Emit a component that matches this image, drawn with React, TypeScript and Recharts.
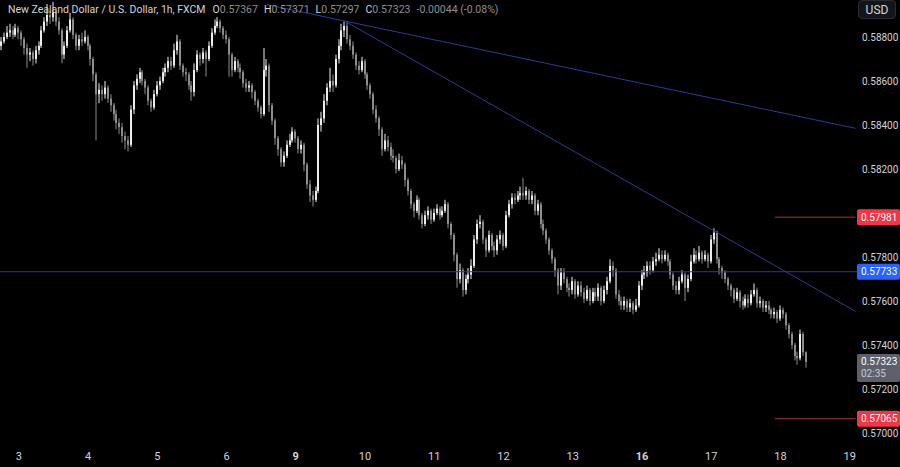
import React from "react";
import { Bar, ComposedChart, ReferenceLine, XAxis, YAxis } from "recharts";

// NZD/USD 1h candles (one entry per hour)
const opens = [
  0.5876, 0.5878, 0.5880, 0.5882, 0.5883, 0.5881, 0.5884, 0.5882, 0.5879, 0.5875,
  0.5872, 0.5873, 0.5870, 0.5874, 0.5876, 0.5883, 0.5887, 0.5890, 0.5889, 0.5891,
  0.5887, 0.5883, 0.5872, 0.5876, 0.5883, 0.5888, 0.5881, 0.5876, 0.5879, 0.5878,
  0.5880, 0.5876, 0.5870, 0.5863, 0.5854, 0.5856, 0.5854, 0.5857, 0.5852, 0.5849,
  0.5845, 0.5841, 0.5839, 0.5835, 0.5833, 0.5831, 0.5847, 0.5858, 0.5861, 0.5864,
  0.5860, 0.5857, 0.5851, 0.5848, 0.5854, 0.5858, 0.5860, 0.5864, 0.5866, 0.5869,
  0.5867, 0.5874, 0.5878, 0.5867, 0.5864, 0.5863, 0.5858, 0.5855, 0.5865, 0.5872,
  0.5870, 0.5873, 0.5870, 0.5876, 0.5882, 0.5885, 0.5887, 0.5884, 0.5881, 0.5879,
  0.5872, 0.5865, 0.5869, 0.5866, 0.5864, 0.5859, 0.5857, 0.5858, 0.5855, 0.5851,
  0.5848, 0.5845, 0.5865, 0.5867, 0.5849, 0.5842, 0.5834, 0.5829, 0.5823, 0.5826,
  0.5831, 0.5833, 0.5837, 0.5834, 0.5829, 0.5831, 0.5822, 0.5813, 0.5808, 0.5806,
  0.5810, 0.5840, 0.5843, 0.5851, 0.5857, 0.5860, 0.5858, 0.5870, 0.5876, 0.5883,
  0.5885, 0.5879, 0.5876, 0.5872, 0.5867, 0.5865, 0.5869, 0.5863, 0.5858, 0.5854,
  0.5847, 0.5843, 0.5838, 0.5829, 0.5833, 0.5830, 0.5826, 0.5825, 0.5820, 0.5824,
  0.5822, 0.5815, 0.5810, 0.5804, 0.5801, 0.5806, 0.5799, 0.5795, 0.5799, 0.5801,
  0.5797, 0.5800, 0.5802, 0.5799, 0.5801, 0.5804, 0.5795, 0.5790, 0.5781, 0.5770,
  0.5774, 0.5765, 0.5770, 0.5772, 0.5776, 0.5788, 0.5795, 0.5796, 0.5788, 0.5783,
  0.5790, 0.5785, 0.5783, 0.5788, 0.5790, 0.5785, 0.5799, 0.5804, 0.5807, 0.5806,
  0.5808, 0.5809, 0.5808, 0.5810, 0.5806, 0.5808, 0.5801, 0.5804, 0.5795, 0.5792,
  0.5788, 0.5783, 0.5779, 0.5774, 0.5767, 0.5773, 0.5770, 0.5766, 0.5765, 0.5769,
  0.5763, 0.5767, 0.5764, 0.5761, 0.5765, 0.5760, 0.5764, 0.5762, 0.5766, 0.5760,
  0.5765, 0.5769, 0.5776, 0.5774, 0.5763, 0.5760, 0.5758, 0.5760, 0.5757, 0.5759,
  0.5756, 0.5758, 0.5767, 0.5772, 0.5773, 0.5776, 0.5774, 0.5778, 0.5779, 0.5781,
  0.5779, 0.5781, 0.5778, 0.5772, 0.5767, 0.5765, 0.5769, 0.5772, 0.5766, 0.5770,
  0.5778, 0.5781, 0.5779, 0.5782, 0.5779, 0.5781, 0.5778, 0.5788, 0.5791, 0.5779,
  0.5775, 0.5773, 0.5770, 0.5767, 0.5765, 0.5761, 0.5764, 0.5760, 0.5758, 0.5761,
  0.5759, 0.5763, 0.5765, 0.5759, 0.5760, 0.5757, 0.5758, 0.5756, 0.5754, 0.5755,
  0.5752, 0.5756, 0.5754, 0.5749, 0.5745, 0.5740, 0.5735, 0.5734, 0.5745, 0.57367,
];

const highs = [
  0.5880, 0.5882, 0.5885, 0.5886, 0.5885, 0.5886, 0.5885, 0.5883, 0.5880, 0.5877,
  0.5875, 0.5874, 0.5876, 0.5878, 0.5885, 0.5889, 0.5895, 0.5892, 0.5896, 0.5892,
  0.5889, 0.5884, 0.5878, 0.5885, 0.5891, 0.5889, 0.5882, 0.5881, 0.5882, 0.5883,
  0.5881, 0.5877, 0.5871, 0.5864, 0.5859, 0.5858, 0.5860, 0.5858, 0.5854, 0.5850,
  0.5847, 0.5843, 0.5841, 0.5837, 0.5835, 0.5849, 0.5860, 0.5863, 0.5866, 0.5865,
  0.5861, 0.5858, 0.5852, 0.5856, 0.5860, 0.5862, 0.5866, 0.5868, 0.5871, 0.5871,
  0.5877, 0.5881, 0.5879, 0.5868, 0.5866, 0.5864, 0.5860, 0.5868, 0.5874, 0.5873,
  0.5875, 0.5874, 0.5878, 0.5884, 0.5888, 0.5889, 0.5888, 0.5885, 0.5883, 0.5880,
  0.5873, 0.5871, 0.5870, 0.5868, 0.5865, 0.5861, 0.5860, 0.5859, 0.5856, 0.5852,
  0.5849, 0.5875, 0.5870, 0.5868, 0.5850, 0.5843, 0.5835, 0.5830, 0.5828, 0.5833,
  0.5836, 0.5839, 0.5838, 0.5835, 0.5833, 0.5832, 0.5823, 0.5815, 0.5810, 0.5812,
  0.5843, 0.5846, 0.5854, 0.5859, 0.5866, 0.5863, 0.5872, 0.5879, 0.5886, 0.5887,
  0.5887, 0.5881, 0.5878, 0.5873, 0.5869, 0.5871, 0.5870, 0.5864, 0.5859, 0.5855,
  0.5849, 0.5844, 0.5839, 0.5836, 0.5835, 0.5832, 0.5829, 0.5826, 0.5827, 0.5826,
  0.5823, 0.5816, 0.5811, 0.5805, 0.5808, 0.5807, 0.5800, 0.5801, 0.5803, 0.5802,
  0.5802, 0.5804, 0.5803, 0.5803, 0.5806, 0.5805, 0.5796, 0.5791, 0.5782, 0.5777,
  0.5775, 0.5772, 0.5775, 0.5779, 0.5790, 0.5797, 0.5799, 0.5797, 0.5789, 0.5792,
  0.5791, 0.5787, 0.5790, 0.5792, 0.5791, 0.5801, 0.5806, 0.5809, 0.5809, 0.5810,
  0.5812, 0.5816, 0.5812, 0.5811, 0.5810, 0.5809, 0.5806, 0.5805, 0.5797, 0.5793,
  0.5789, 0.5784, 0.5780, 0.5775, 0.5775, 0.5775, 0.5771, 0.5768, 0.5771, 0.5770,
  0.5769, 0.5769, 0.5766, 0.5767, 0.5766, 0.5766, 0.5766, 0.5768, 0.5767, 0.5767,
  0.5771, 0.5779, 0.5778, 0.5775, 0.5765, 0.5762, 0.5762, 0.5761, 0.5761, 0.5760,
  0.5761, 0.5769, 0.5774, 0.5776, 0.5778, 0.5778, 0.5780, 0.5782, 0.5784, 0.5783,
  0.5783, 0.5782, 0.5779, 0.5773, 0.5769, 0.5771, 0.5774, 0.5773, 0.5772, 0.5781,
  0.5784, 0.5783, 0.5785, 0.5783, 0.5783, 0.5782, 0.5790, 0.5793, 0.5792, 0.5780,
  0.5776, 0.5774, 0.5771, 0.5768, 0.5766, 0.5766, 0.5765, 0.5762, 0.5763, 0.5763,
  0.5765, 0.5768, 0.5766, 0.5762, 0.5761, 0.5760, 0.5760, 0.5757, 0.5757, 0.5756,
  0.5758, 0.5757, 0.5755, 0.5750, 0.5746, 0.5741, 0.5737, 0.5747, 0.5746, 0.57371,
];

const lows = [
  0.5874, 0.5877, 0.5879, 0.5880, 0.5879, 0.5880, 0.5879, 0.5876, 0.5872, 0.5866,
  0.5869, 0.5867, 0.5868, 0.5872, 0.5875, 0.5882, 0.5885, 0.5886, 0.5887, 0.5885,
  0.5881, 0.5868, 0.5870, 0.5875, 0.5882, 0.5879, 0.5874, 0.5874, 0.5876, 0.5877,
  0.5874, 0.5867, 0.5860, 0.5833, 0.5850, 0.5851, 0.5852, 0.5850, 0.5846, 0.5842,
  0.5838, 0.5836, 0.5832, 0.5829, 0.5828, 0.5830, 0.5845, 0.5856, 0.5859, 0.5858,
  0.5854, 0.5849, 0.5846, 0.5847, 0.5853, 0.5856, 0.5859, 0.5862, 0.5864, 0.5865,
  0.5866, 0.5872, 0.5865, 0.5862, 0.5860, 0.5856, 0.5851, 0.5853, 0.5864, 0.5867,
  0.5868, 0.5862, 0.5869, 0.5875, 0.5881, 0.5884, 0.5882, 0.5879, 0.5877, 0.5862,
  0.5862, 0.5864, 0.5864, 0.5861, 0.5857, 0.5855, 0.5855, 0.5852, 0.5849, 0.5846,
  0.5843, 0.5844, 0.5862, 0.5846, 0.5840, 0.5831, 0.5826, 0.5821, 0.5821, 0.5825,
  0.5830, 0.5832, 0.5832, 0.5827, 0.5827, 0.5819, 0.5811, 0.5805, 0.5803, 0.5805,
  0.5809, 0.5837, 0.5841, 0.5849, 0.5855, 0.5855, 0.5857, 0.5868, 0.5874, 0.5880,
  0.5877, 0.5874, 0.5870, 0.5865, 0.5863, 0.5864, 0.5861, 0.5856, 0.5852, 0.5845,
  0.5841, 0.5835, 0.5826, 0.5828, 0.5828, 0.5824, 0.5823, 0.5818, 0.5819, 0.5820,
  0.5812, 0.5808, 0.5802, 0.5798, 0.5800, 0.5797, 0.5793, 0.5794, 0.5797, 0.5795,
  0.5796, 0.5799, 0.5797, 0.5798, 0.5800, 0.5793, 0.5788, 0.5778, 0.5766, 0.5768,
  0.5762, 0.5763, 0.5768, 0.5770, 0.5775, 0.5786, 0.5793, 0.5786, 0.5780, 0.5782,
  0.5783, 0.5780, 0.5781, 0.5786, 0.5783, 0.5784, 0.5798, 0.5802, 0.5804, 0.5805,
  0.5806, 0.5806, 0.5806, 0.5804, 0.5804, 0.5799, 0.5799, 0.5793, 0.5790, 0.5786,
  0.5781, 0.5777, 0.5771, 0.5763, 0.5765, 0.5768, 0.5764, 0.5762, 0.5763, 0.5761,
  0.5762, 0.5762, 0.5759, 0.5760, 0.5758, 0.5759, 0.5760, 0.5760, 0.5758, 0.5759,
  0.5763, 0.5768, 0.5771, 0.5761, 0.5758, 0.5756, 0.5756, 0.5755, 0.5755, 0.5754,
  0.5755, 0.5757, 0.5765, 0.5770, 0.5771, 0.5772, 0.5773, 0.5776, 0.5778, 0.5777,
  0.5778, 0.5776, 0.5770, 0.5765, 0.5763, 0.5763, 0.5768, 0.5760, 0.5764, 0.5769,
  0.5777, 0.5777, 0.5778, 0.5777, 0.5778, 0.5775, 0.5777, 0.5786, 0.5777, 0.5772,
  0.5770, 0.5768, 0.5765, 0.5762, 0.5759, 0.5760, 0.5757, 0.5756, 0.5757, 0.5757,
  0.5758, 0.5762, 0.5757, 0.5757, 0.5755, 0.5755, 0.5754, 0.5752, 0.5752, 0.5750,
  0.5751, 0.5752, 0.5747, 0.5743, 0.5738, 0.5733, 0.5731, 0.5733, 0.5735, 0.57297,
];

const closes = [
  0.5878, 0.5880, 0.5882, 0.5883, 0.5881, 0.5884, 0.5882, 0.5879, 0.5875, 0.5872,
  0.5873, 0.5870, 0.5874, 0.5876, 0.5883, 0.5887, 0.5890, 0.5889, 0.5891, 0.5887,
  0.5883, 0.5872, 0.5876, 0.5883, 0.5888, 0.5881, 0.5876, 0.5879, 0.5878, 0.5880,
  0.5876, 0.5870, 0.5863, 0.5854, 0.5856, 0.5854, 0.5857, 0.5852, 0.5849, 0.5845,
  0.5841, 0.5839, 0.5835, 0.5833, 0.5831, 0.5847, 0.5858, 0.5861, 0.5864, 0.5860,
  0.5857, 0.5851, 0.5848, 0.5854, 0.5858, 0.5860, 0.5864, 0.5866, 0.5869, 0.5867,
  0.5874, 0.5878, 0.5867, 0.5864, 0.5863, 0.5858, 0.5855, 0.5865, 0.5872, 0.5870,
  0.5873, 0.5870, 0.5876, 0.5882, 0.5885, 0.5887, 0.5884, 0.5881, 0.5879, 0.5872,
  0.5865, 0.5869, 0.5866, 0.5864, 0.5859, 0.5857, 0.5858, 0.5855, 0.5851, 0.5848,
  0.5845, 0.5865, 0.5867, 0.5849, 0.5842, 0.5834, 0.5829, 0.5823, 0.5826, 0.5831,
  0.5833, 0.5837, 0.5834, 0.5829, 0.5831, 0.5822, 0.5813, 0.5808, 0.5806, 0.5810,
  0.5840, 0.5843, 0.5851, 0.5857, 0.5860, 0.5858, 0.5870, 0.5876, 0.5883, 0.5885,
  0.5879, 0.5876, 0.5872, 0.5867, 0.5865, 0.5869, 0.5863, 0.5858, 0.5854, 0.5847,
  0.5843, 0.5838, 0.5829, 0.5833, 0.5830, 0.5826, 0.5825, 0.5820, 0.5824, 0.5822,
  0.5815, 0.5810, 0.5804, 0.5801, 0.5806, 0.5799, 0.5795, 0.5799, 0.5801, 0.5797,
  0.5800, 0.5802, 0.5799, 0.5801, 0.5804, 0.5795, 0.5790, 0.5781, 0.5770, 0.5774,
  0.5765, 0.5770, 0.5772, 0.5776, 0.5788, 0.5795, 0.5796, 0.5788, 0.5783, 0.5790,
  0.5785, 0.5783, 0.5788, 0.5790, 0.5785, 0.5799, 0.5804, 0.5807, 0.5806, 0.5808,
  0.5809, 0.5808, 0.5810, 0.5806, 0.5808, 0.5801, 0.5804, 0.5795, 0.5792, 0.5788,
  0.5783, 0.5779, 0.5774, 0.5767, 0.5773, 0.5770, 0.5766, 0.5765, 0.5769, 0.5763,
  0.5767, 0.5764, 0.5761, 0.5765, 0.5760, 0.5764, 0.5762, 0.5766, 0.5760, 0.5765,
  0.5769, 0.5776, 0.5774, 0.5763, 0.5760, 0.5758, 0.5760, 0.5757, 0.5759, 0.5756,
  0.5758, 0.5767, 0.5772, 0.5773, 0.5776, 0.5774, 0.5778, 0.5779, 0.5781, 0.5779,
  0.5781, 0.5778, 0.5772, 0.5767, 0.5765, 0.5769, 0.5772, 0.5766, 0.5770, 0.5778,
  0.5781, 0.5779, 0.5782, 0.5779, 0.5781, 0.5778, 0.5788, 0.5791, 0.5779, 0.5775,
  0.5773, 0.5770, 0.5767, 0.5765, 0.5761, 0.5764, 0.5760, 0.5758, 0.5761, 0.5759,
  0.5763, 0.5765, 0.5759, 0.5760, 0.5757, 0.5758, 0.5756, 0.5754, 0.5755, 0.5752,
  0.5756, 0.5754, 0.5749, 0.5745, 0.5740, 0.5735, 0.5734, 0.5745, 0.57367, 0.57323,
];

// day labels sit on the first hour of each trading day
const dayLabels = ["3", "4", "5", "6", "9", "10", "11", "12", "13", "16", "17", "18", "19"];
const dayStarts = [6, 30, 54, 78, 102, 126, 150, 174, 198, 222, 246, 270, 294];
const weekStarts = ["9", "16"];

const priceTicks = [0.57, 0.572, 0.574, 0.576, 0.578, 0.582, 0.584, 0.586, 0.588];

// drawn levels and trendlines
const resistanceLevel = 0.57981;
const pivotLevel = 0.57733;
const supportLevel = 0.57065;
const lastPrice = 0.57323;
const countdown = "02:35";
const upperTrend = [{ x: 92, y: 0.58947 }, { x: 296, y: 0.58385 }];
const lowerTrend = [{ x: 119, y: 0.58872 }, { x: 296, y: 0.57553 }];
const levelStart = 268;

const header = { o: "0.57367", h: "0.57371", l: "0.57297", c: "0.57323", chg: "-0.00044 (-0.08%)" };

const FONT = "Roboto, 'Noto Sans', sans-serif";
const UP = "#ededed";
const DOWN = "#8d8d8d";
const BLUE = "#2d3a98";
const RED = "#a8323b";
const TEXT = "#d1d4dc";

const data = closes.map((c, i) => ({ i, open: opens[i], high: highs[i], low: lows[i], close: c }));

function Candle(props: any) {
  const { x, y, width, height, payload } = props;
  if (!payload) return null;
  const { open, close, high, low } = payload;
  const span = high - low || 1e-9;
  const py = (p: number) => y + ((high - p) / span) * height;
  const cx = Math.round(x + width / 2);
  const color = close >= open ? UP : DOWN;
  const top = py(Math.max(open, close));
  const bot = py(Math.min(open, close));
  return (
    <g>
      <rect x={cx - 0.5} y={y} width={1} height={Math.max(height, 1)} fill={color} />
      <rect x={cx - 1} y={top} width={2} height={Math.max(bot - top, 1)} fill={color} />
    </g>
  );
}

function DayTick({ x, y, payload }: any) {
  const label = dayLabels[dayStarts.indexOf(payload.value)];
  return (
    <text x={x} y={y + 12} textAnchor="middle" fill={TEXT} fontSize={11} fontFamily={FONT}
      fontWeight={weekStarts.includes(label) ? 700 : 400}>
      {label}
    </text>
  );
}

function PriceTag({ viewBox, text, fill }: any) {
  const x = viewBox.x + viewBox.width;
  const y = viewBox.y;
  return (
    <g>
      <rect x={x} y={y - 8} width={43} height={16} rx={2} fill={fill} />
      <text x={x + 4} y={y} dy="0.35em" fill="#ffffff" fontSize={10} fontFamily={FONT}>{text}</text>
    </g>
  );
}

function LastTag({ viewBox }: any) {
  const x = viewBox.x + viewBox.width;
  const y = viewBox.y;
  return (
    <g>
      <rect x={x} y={y - 8} width={43} height={28} rx={2} fill="#5d606b" />
      <text x={x + 4} y={y} dy="0.35em" fill="#ffffff" fontSize={10} fontFamily={FONT}>{lastPrice.toFixed(5)}</text>
      <text x={x + 4} y={y + 12} dy="0.35em" fill="#c9cbd2" fontSize={10} fontFamily={FONT}>{countdown}</text>
    </g>
  );
}

export default function App() {
  const val = { color: "#8f8f8f" };
  return (
    <div style={{ position: "absolute", left: 0, top: 0, width: 900, height: 467, background: "#000", overflow: "hidden", fontFamily: FONT }}>
      <ComposedChart width={900} height={467} data={data} margin={{ top: 0, right: 0, bottom: 0, left: 0 }}>
        <XAxis dataKey="i" type="number" domain={[-0.5, 296.5]} ticks={dayStarts} interval={0}
          tick={<DayTick />} axisLine={false} tickLine={false} height={27} allowDataOverflow />
        <YAxis orientation="right" type="number" width={43} domain={[0.569682, 0.589682]} ticks={priceTicks}
          allowDataOverflow tickFormatter={(v: number) => v.toFixed(5)} tickSize={0} tickMargin={5}
          tick={{ fill: TEXT, fontSize: 10, fontFamily: FONT }} axisLine={false} tickLine={false} />
        <ReferenceLine segment={upperTrend} stroke={BLUE} strokeWidth={1} />
        <ReferenceLine segment={lowerTrend} stroke={BLUE} strokeWidth={1} />
        <ReferenceLine y={pivotLevel} stroke={BLUE} strokeWidth={1}
          label={<PriceTag text={pivotLevel.toFixed(5)} fill="#2962ff" />} />
        <ReferenceLine segment={[{ x: levelStart, y: resistanceLevel }, { x: 296, y: resistanceLevel }]} stroke={RED} />
        <ReferenceLine segment={[{ x: levelStart, y: supportLevel }, { x: 296, y: supportLevel }]} stroke={RED} />
        <Bar dataKey={(d: any) => [d.low, d.high]} barSize={2} shape={<Candle />} isAnimationActive={false} />
        <ReferenceLine y={resistanceLevel} stroke="none"
          label={<PriceTag text={resistanceLevel.toFixed(5)} fill="#f23645" />} />
        <ReferenceLine y={supportLevel} stroke="none"
          label={<PriceTag text={supportLevel.toFixed(5)} fill="#f23645" />} />
        <ReferenceLine y={lastPrice} stroke="none" label={<LastTag />} />
      </ComposedChart>
      <div style={{ position: "absolute", left: 8, top: 3, fontSize: 10.5, color: TEXT, whiteSpace: "nowrap" }}>
        <span>New Zealand Dollar / U.S. Dollar, 1h, FXCM</span>
        <span style={{ marginLeft: 7 }}>O</span><span style={val}>{header.o}</span>
        <span style={{ marginLeft: 6 }}>H</span><span style={val}>{header.h}</span>
        <span style={{ marginLeft: 6 }}>L</span><span style={val}>{header.l}</span>
        <span style={{ marginLeft: 6 }}>C</span><span style={val}>{header.c}</span>
        <span style={{ marginLeft: 6, ...val }}>{header.chg}</span>
      </div>
      <div style={{ position: "absolute", left: 858, top: 0, width: 38, height: 19, boxSizing: "border-box",
        border: "1px solid #2a2c33", background: "#141518", borderRadius: 4, color: TEXT, fontSize: 12,
        display: "flex", alignItems: "center", justifyContent: "center" }}>
        USD
      </div>
    </div>
  );
}
